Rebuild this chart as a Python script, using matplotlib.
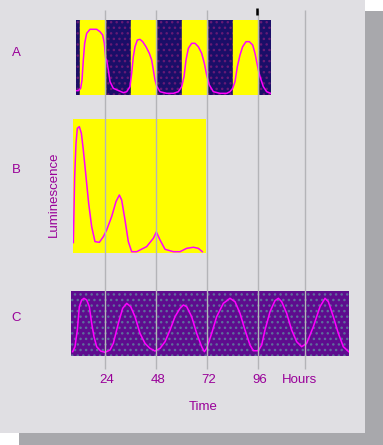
import matplotlib
matplotlib.use("Agg")
import matplotlib.pyplot as plt
from matplotlib.patches import Rectangle

plt.rcParams["hatch.linewidth"] = 1.0

# --- data (hours, relative luminescence 0-100) ---
# A: light/dark cycle, light periods start at these hours and last 12 h
light_on = [12, 36, 60, 84]
light_len = 12
a_hours = [10.35, 11.45, 12.55, 13.18, 13.80, 14.43, 15.37, 16.94, 20.08, 21.65,
           22.90, 23.69, 24.31, 24.78, 25.57, 26.35, 27.92, 32.63, 34.20, 35.76,
           36.55, 37.33, 38.12, 39.22, 40.47, 41.73, 43.29, 44.86, 45.96, 46.75,
           47.53, 48.31, 49.88, 53.02, 56.16, 58.51, 60.08, 61.18, 62.12, 63.22,
           64.78, 66.35, 67.92, 69.49, 70.75, 71.84, 73.10, 74.98, 78.12, 81.25,
           82.82, 84.08, 85.18, 86.27, 87.53, 88.78, 90.35, 91.92, 93.49, 94.59,
           95.37, 96.16, 96.94, 98.51, 100.08, 101.96]
a_lum = [5.8, 5.8, 8.9, 20.0, 46.7, 68.9, 82.2, 87.6, 87.6, 84.4,
         80.0, 68.9, 48.9, 46.7, 33.3, 17.8, 8.9, 3.1, 4.4, 11.1,
         28.9, 51.1, 64.4, 73.3, 74.2, 71.1, 64.4, 55.6, 46.7, 33.3,
         20.0, 12.0, 4.4, 2.2, 2.2, 4.4, 11.1, 24.4, 46.7, 62.2,
         68.9, 68.9, 64.4, 55.6, 42.2, 26.7, 13.3, 4.4, 2.2, 2.2,
         4.4, 8.9, 17.8, 37.8, 53.3, 64.4, 71.1, 71.1, 66.7, 55.6,
         44.4, 33.3, 24.4, 11.1, 4.4, 2.2]

# B: constant light, damped rhythm
b_hours = [9.10, 9.41, 9.73, 10.35, 10.98, 11.92, 12.86, 13.80, 15.06, 16.31,
           17.72, 19.29, 21.33, 23.22, 24.78, 27.14, 29.18, 30.75, 31.84, 33.41,
           34.98, 36.55, 38.90, 43.61, 46.75, 48.16, 49.88, 52.24, 56.16, 59.29,
           62.43, 65.57, 67.92, 69.80]
b_lum = [8.0, 32.3, 57.2, 82.1, 93.3, 94.5, 89.6, 77.1, 57.2, 37.3,
         19.9, 8.7, 8.2, 12.4, 17.4, 27.4, 38.6, 43.5, 39.8, 24.9,
         8.7, 1.2, 1.2, 5.0, 11.2, 15.9, 10.0, 3.0, 1.2, 1.2,
         3.7, 4.5, 3.7, 1.2]

# C: constant dark, sustained rhythm
c_hours = [8.78, 9.88, 10.98, 11.92, 13.02, 14.12, 15.37, 16.63, 17.73, 18.82,
           20.08, 21.96, 24.00, 26.35, 27.92, 30.27, 32.31, 34.20, 36.08, 38.12,
           40.47, 42.82, 45.18, 47.53, 49.88, 52.24, 54.59, 56.94, 59.29, 60.86,
           62.43, 64.78, 67.14, 69.49, 70.75, 71.84, 74.20, 76.55, 79.69, 82.82,
           85.18, 87.53, 89.88, 92.24, 93.80, 96.16, 97.73, 99.29, 101.65, 104.0,
           105.57, 107.14, 109.49, 111.84, 114.2, 116.55, 118.9, 122.04, 125.18, 127.53,
           129.1, 131.45, 133.8, 136.16, 138.67]
c_lum = [6.2, 13.9, 39.7, 75.8, 86.1, 88.7, 86.1, 75.8, 50.0, 29.4,
         13.9, 7.2, 5.2, 8.8, 19.1, 50.0, 73.2, 80.9, 75.8, 60.3,
         34.5, 19.1, 11.3, 7.2, 11.3, 21.6, 39.7, 60.3, 73.2, 78.4,
         75.8, 60.3, 34.5, 13.9, 6.2, 11.3, 34.5, 60.3, 80.9, 88.7,
         83.5, 65.5, 39.7, 16.5, 7.7, 7.7, 16.5, 39.7, 68.0, 85.1,
         88.7, 83.5, 65.5, 39.7, 21.6, 13.9, 19.1, 44.8, 75.8, 88.7,
         83.5, 60.3, 34.5, 13.9, 6.2]

tick_hours = [24, 48, 72, 96]
tick_labels = ["24", "48", "72", "96"]
hours_line = 118.3

# --- layout helpers (pixels of the 383x445 picture) ---
W, H = 383, 445
X0, PPH = 54.0, 2.125   # pixel of hour 0, pixels per hour
TXT = "#990099"
TRACE = "#ff00ff"
FONT = ["Liberation Sans", "DejaVu Sans"]


def hour_px(h):
    return X0 + PPH * h


def px_hour(px):
    return (px - X0) / PPH


def panel(h0, h1, top, bottom, face):
    left = hour_px(h0) / W
    width = (hour_px(h1) - hour_px(h0)) / W
    ax = fig.add_axes([left, 1 - bottom / H, width, (bottom - top) / H])
    ax.set_xlim(h0, h1)
    ax.set_ylim(0, 100)
    ax.set_facecolor(face)
    ax.set_xticks([])
    ax.set_yticks([])
    for s in ax.spines.values():
        s.set_visible(False)
    return ax


fig = plt.figure(figsize=(W / 100, H / 100), dpi=100)
fig.patch.set_facecolor("white")

# background axes in pixel units: drop shadow and light grey card
bg = fig.add_axes([0, 0, 1, 1])
bg.set_xlim(0, W)
bg.set_ylim(H, 0)
bg.axis("off")
bg.add_patch(Rectangle((19, 11), W - 19, H - 11, color="#a8a8ac", lw=0))
bg.add_patch(Rectangle((0, 0), 365, 433, color="#e0dfe3", lw=0))

# panel A: light/dark
axA = panel(10.35, 102, 20, 95, "#1a0e68")
axA.add_patch(Rectangle((10.35, 0), 102 - 10.35, 100, facecolor="none",
                        edgecolor="#661a76", hatch="...", linewidth=0))
for start in light_on:
    axA.axvspan(start, start + light_len, color="#ffff00", zorder=1)
axA.plot(a_hours, a_lum, color=TRACE, lw=1.1, zorder=3)

# panel B: constant light
axB = panel(9.1, 71.4, 119.3, 253.3, "#ffff00")
axB.plot(b_hours, b_lum, color=TRACE, lw=1.1, zorder=3)

# panel C: constant dark
axC = panel(8.0, 138.7, 291, 355.7, "#5e0c8e")
axC.add_patch(Rectangle((8.0, 0), 138.7 - 8.0, 100, facecolor="none",
                        edgecolor="#5f6c9c", hatch="...", linewidth=0))
axC.plot(c_hours, c_lum, color=TRACE, lw=1.1, zorder=3)

# overlay: grid lines and labels
ov = fig.add_axes([0, 0, 1, 1])
ov.set_xlim(px_hour(0), px_hour(W))
ov.set_ylim(H, 0)
ov.axis("off")
ov.vlines(tick_hours + [hours_line], 10, 369, color="#b4b4b8", lw=1)
ov.vlines([95.7], 8, 15, color="black", lw=1.8)

for h, lab in zip(tick_hours, tick_labels):
    ov.text(h + 1, 380, lab, ha="center", va="center", color=TXT, fontsize=9.5, family=FONT)
ov.text(px_hour(299), 380, "Hours", ha="center", va="center", color=TXT,
        fontsize=9.5, family=FONT)
ov.text(px_hour(203), 407, "Time", ha="center", va="center", color=TXT,
        fontsize=9.5, family=FONT)
for lab, y in [("A", 53), ("B", 170), ("C", 318)]:
    ov.text(px_hour(16), y, lab, ha="center", va="center", color=TXT,
            fontsize=9.5, family=FONT)
ov.text(px_hour(54), 194, "Luminescence", ha="center", va="center", rotation=90,
        color=TXT, fontsize=9.5, family=FONT)

fig.savefig("out.png", dpi=100, facecolor=fig.get_facecolor())
